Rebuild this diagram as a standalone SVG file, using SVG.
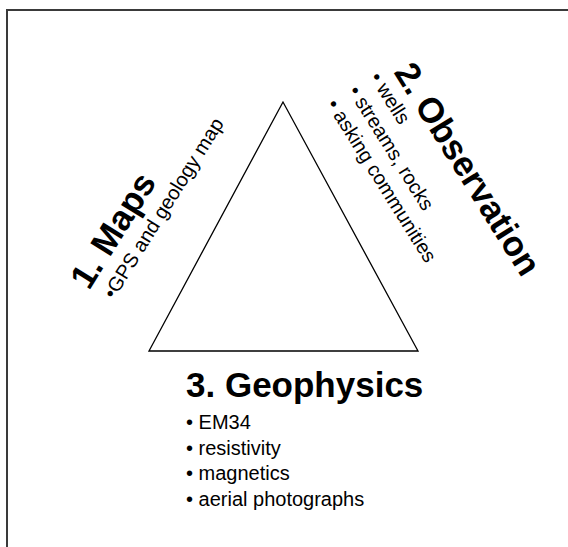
<svg xmlns="http://www.w3.org/2000/svg" width="568" height="547" viewBox="0 0 568 547">
  <style>
    .frame { fill: none; stroke: #3a3a3a; stroke-width: 2; }
    .tri { fill: none; stroke: #000; stroke-width: 1.3; stroke-linejoin: miter; }
    .title { font-family: "Liberation Sans", Arial, sans-serif; font-weight: bold; font-size: 35px; fill: #000; }
    .item { font-family: "Liberation Sans", Arial, sans-serif; font-size: 20px; fill: #000; }
  </style>
  <rect width="568" height="547" fill="#fff"/>
  <!-- page frame (open to the right and bottom) -->
  <rect class="frame" x="7" y="10" width="600" height="600"/>

  <g id="triangle">
    <polygon class="tri" points="283,102 149,351 418,351"/>
  </g>

  <g id="maps">
    <text class="title" transform="translate(89 291) rotate(-58)">1. Maps</text>
    <text class="item" transform="translate(114 300) rotate(-58)">•GPS and geology map</text>
  </g>

  <g id="observation">
    <text class="title" transform="translate(393.2 72.2) rotate(58)">2. Observation</text>
    <text class="item" transform="translate(369.3 77.5) rotate(58)">• wells</text>
    <text class="item" transform="translate(347.7 91) rotate(58)">• streams, rocks</text>
    <text class="item" transform="translate(326.1 104.5) rotate(58)">• asking communities</text>
  </g>

  <g id="geophysics">
    <text class="title" x="186" y="397">3. Geophysics</text>
    <text class="item" x="186" y="429">• EM34</text>
    <text class="item" x="186" y="455">• resistivity</text>
    <text class="item" x="186" y="480">• magnetics</text>
    <text class="item" x="186" y="506">• aerial photographs</text>
  </g>
</svg>
